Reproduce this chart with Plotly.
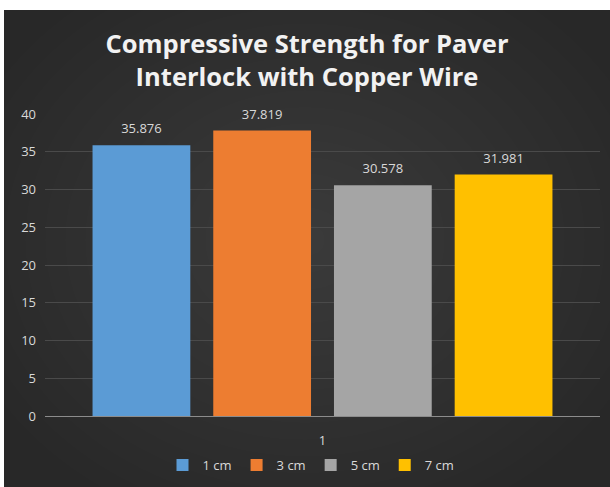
import plotly.graph_objects as go

categories = ["1"]
series_names = ["1 cm", "3 cm", "5 cm", "7 cm"]
series_values = [35.876, 37.819, 30.578, 31.981]
series_colors = ["#5B9BD5", "#ED7D31", "#A5A5A5", "#FFC000"]
y_ticks = [0, 5, 10, 15, 20, 25, 30, 35, 40]

W, H = 610, 487
ML, MR, MT, MB = 45, 10, 114, 71
pw = W - ML - MR
ph = H - MT - MB

def px_x(p):
    return (p - ML) / pw

def px_y(p):
    return (H - MB - p) / ph

fig = go.Figure()
for i, (name, val, col) in enumerate(zip(series_names, series_values, series_colors)):
    fig.add_trace(go.Bar(
        x=categories, y=[val], name=name,
        marker=dict(color=col, line=dict(width=0)),
        offsetgroup=str(i), alignmentgroup="a",
        hoverinfo="name+y",
    ))
for i, (name, val) in enumerate(zip(series_names, series_values)):
    fig.add_trace(go.Scatter(
        x=categories, y=[val], mode="markers+text", showlegend=False,
        offsetgroup=str(i), alignmentgroup="a",
        marker=dict(size=12, opacity=0),
        text=[f"{val:.3f}"], textposition="top center",
        textfont=dict(color="#d9d9d9", size=13),
        hoverinfo="skip", cliponaxis=False,
    ))

shapes = [dict(type="rect", xref="paper", yref="paper", layer="below",
               x0=px_x(4), x1=px_x(W + 2), y0=px_y(H + 2), y1=px_y(10),
               fillcolor="#282828", line=dict(width=0))]
# soft radial glow
cx, cy = 305, 240
n = 18
for i in range(n):
    f = 1 - i / n
    rx, ry = 360 * f, 300 * f
    shapes.append(dict(type="circle", xref="paper", yref="paper", layer="below",
                       x0=px_x(cx - rx), x1=px_x(cx + rx), y0=px_y(cy + ry), y1=px_y(cy - ry),
                       fillcolor="rgba(255,255,255,0.0075)", line=dict(width=0)))

fig.update_layout(
    width=W, height=H,
    margin=dict(l=ML, r=MR, t=MT, b=MB, autoexpand=False),
    paper_bgcolor="white", plot_bgcolor="rgba(0,0,0,0)",
    font=dict(family="Open Sans, sans-serif", color="#d9d9d9", size=13),
    title=dict(text="<b>Compressive Strength for Paver<br>Interlock with Copper Wire</b>",
               x=px_x(307), xref="paper", xanchor="center",
               y=1 - 53 / H, yanchor="middle",
               font=dict(size=25.5, color="#f2f2f2", family="Open Sans, sans-serif")),
    barmode="group", bargap=0.13, bargroupgap=0.19,
    scattermode="group", scattergap=0.13,
    showlegend=True,
    legend=dict(orientation="h", x=px_x(311), xanchor="center", y=px_y(465), yanchor="middle",
                font=dict(size=13, color="#d9d9d9"), bgcolor="rgba(0,0,0,0)",
                itemwidth=30, traceorder="normal"),
    shapes=shapes,
    xaxis=dict(showgrid=False, showline=True, linecolor="#8c8c8c", linewidth=1,
               ticks="", tickfont=dict(size=13, color="#d9d9d9"), ticklabelstandoff=12),
    yaxis=dict(range=[0, 40], tickvals=y_ticks, showgrid=True, gridcolor="#4a4a4a",
               gridwidth=1, zeroline=False, showline=False, ticks="",
               tickfont=dict(size=13, color="#d9d9d9"), ticklabelstandoff=8),
)

fig.write_html("out.html")
